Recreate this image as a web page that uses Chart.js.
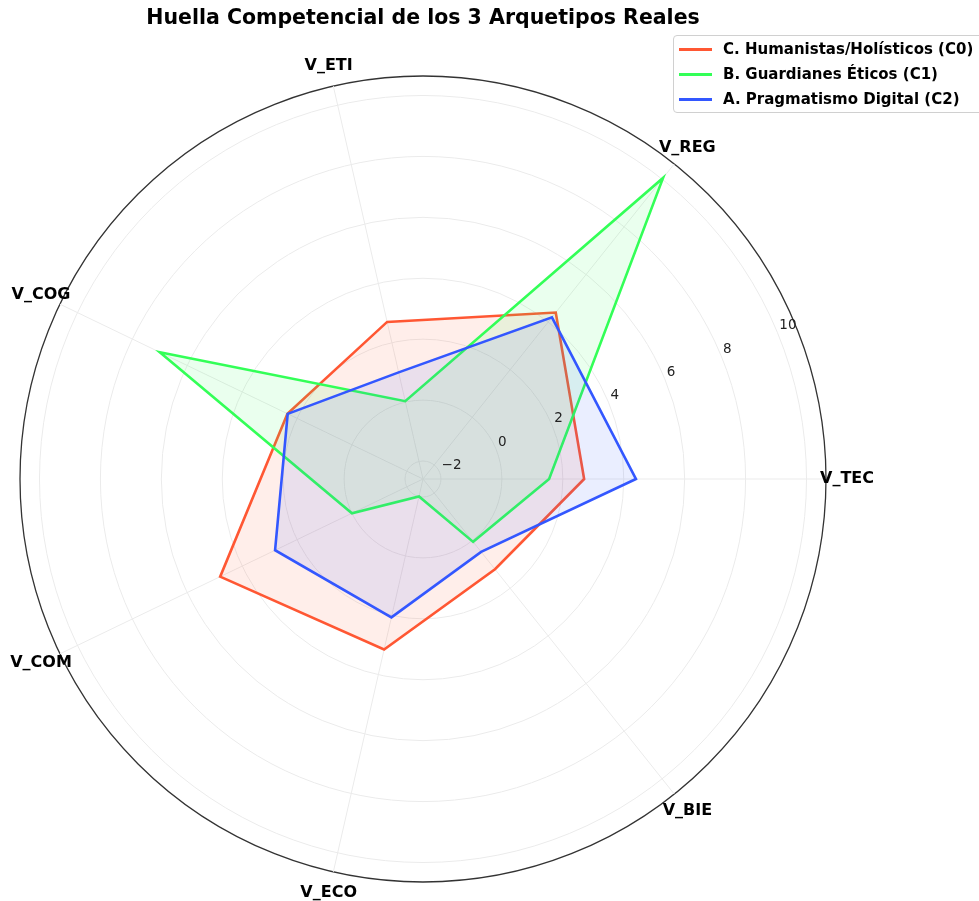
<!DOCTYPE html>
<html>
<head>
<meta charset="utf-8">
<title>Huella Competencial</title>
<script src="https://cdn.jsdelivr.net/npm/chart.js@4.4.1/dist/chart.umd.min.js"></script>
<style>
    html, body { margin: 0; padding: 0; background: #fff; overflow: hidden; }
    #wrap { position: relative; width: 979px; height: 901px; }
    #title {
        position: absolute; left: 0; width: 846px; top: 5px;
        text-align: center; font: bold 20.5px "DejaVu Sans", sans-serif; color: #000;
    }
    #legend {
        position: absolute; left: 673px; top: 35px; width: 320px; height: 78px;
        border: 1px solid #d0d0d0; border-radius: 4px; background: rgba(255,255,255,0.85);
        box-sizing: border-box;
    }
    .row { position: absolute; left: 0; height: 20px; display: flex; align-items: center; }
    .swatch { width: 33px; height: 3px; margin-left: 5px; margin-right: 11px; }
    .row span { font: bold 15px "DejaVu Sans", sans-serif; color: #000; white-space: nowrap; }
</style>
</head>
<body>
<div id="wrap">
    <canvas id="radar" width="979" height="901"></canvas>
    <div id="title">Huella Competencial de los 3 Arquetipos Reales</div>
    <div id="legend"></div>
</div>
<script>
// categories in drawing order (clockwise from the right, as Chart.js goes)
const categories = ['V_TEC', 'V_BIE', 'V_ECO', 'V_COM', 'V_COG', 'V_ETI', 'V_REG'];

// values
const humanistas = [2.7, 1.2, 3.15, 4.8, 2.35, 2.7, 4.4];
const guardianes = [1.55, 0.05, -2.0, 0.0, 7.0, 0.03, 10.05];
const pragmatismo = [4.4, 0.47, 2.07, 2.8, 2.34, 1.0, 4.2];

const seriesNames = ['C. Humanistas/Holísticos (C0)', 'B. Guardianes Éticos (C1)', 'A. Pragmatismo Digital (C2)'];
const seriesColors = ['#FF5733', '#33FF57', '#3357FF'];

// radial axis
const tickValues = [-2, 0, 2, 4, 6, 8, 10];
const rMin = -2.59;
const rMax = 10.64;

function fade(hex, a) {
    const n = parseInt(hex.slice(1), 16);
    return `rgba(${(n >> 16) & 255}, ${(n >> 8) & 255}, ${n & 255}, ${a})`;
}

const allSeries = [humanistas, guardianes, pragmatismo];
const datasets = allSeries.map((values, i) => ({
    label: seriesNames[i],
    data: values,
    borderColor: seriesColors[i],
    backgroundColor: fade(seriesColors[i], 0.1),
    borderWidth: 2.6,
    pointRadius: 0,
    fill: 'start',
    order: 3 - i
}));

// legend as plain html
const legendBox = document.getElementById('legend');
seriesNames.forEach((name, i) => {
    const row = document.createElement('div');
    row.className = 'row';
    row.style.top = (3 + i * 25) + 'px';
    row.innerHTML = `<div class="swatch" style="background:${seriesColors[i]}"></div><span>${name}</span>`;
    legendBox.appendChild(row);
});

// category labels and tick labels drawn like matplotlib does
const polarText = {
    id: 'polarText',
    afterDraw(chart) {
        const scale = chart.scales.r;
        const ctx = chart.ctx;
        ctx.save();

        ctx.font = 'bold 16px "DejaVu Sans", sans-serif';
        ctx.fillStyle = '#000';
        ctx.textAlign = 'center';
        ctx.textBaseline = 'middle';
        categories.forEach((cat, i) => {
            const p = scale.getPointPosition(i, scale.drawingArea + 21);
            ctx.fillText(cat, p.x, p.y);
        });

        ctx.font = '13.5px "DejaVu Sans", sans-serif';
        ctx.fillStyle = '#222';
        ctx.textAlign = 'left';
        ctx.textBaseline = 'alphabetic';
        const ang = 22.5 * Math.PI / 180;
        tickValues.forEach(v => {
            const d = scale.getDistanceFromCenterForValue(v);
            const x = scale.xCenter + Math.cos(ang) * d;
            const y = scale.yCenter - Math.sin(ang) * d;
            const txt = v < 0 ? '\u2212' + Math.abs(v) : String(v);
            ctx.fillText(txt, x + 2, y - 3);
        });
        ctx.restore();
    }
};

new Chart(document.getElementById('radar'), {
    type: 'radar',
    data: { labels: categories, datasets: datasets },
    options: {
        responsive: false,
        animation: false,
        layout: { padding: { left: 20, top: 76, right: 153, bottom: 19 } },
        elements: { line: { tension: 0 } },
        plugins: {
            legend: { display: false },
            title: { display: false },
            tooltip: { enabled: false }
        },
        scales: {
            r: {
                min: rMin,
                max: rMax,
                startAngle: 90,
                afterBuildTicks: (scale) => {
                    scale.ticks = [rMin].concat(tickValues, [rMax]).map(v => ({ value: v }));
                },
                ticks: { display: false },
                pointLabels: { display: false },
                angleLines: { color: '#ebebeb', lineWidth: 1 },
                grid: {
                    circular: true,
                    color: (c) => {
                        if (c.tick.value <= rMin + 1e-6) return 'rgba(0,0,0,0)';
                        return c.tick.value >= rMax - 1e-6 ? '#333' : '#ebebeb';
                    },
                    lineWidth: (c) => c.tick.value >= rMax - 1e-6 ? 1.3 : 1
                }
            }
        }
    },
    plugins: [polarText]
});
</script>
</body>
</html>
